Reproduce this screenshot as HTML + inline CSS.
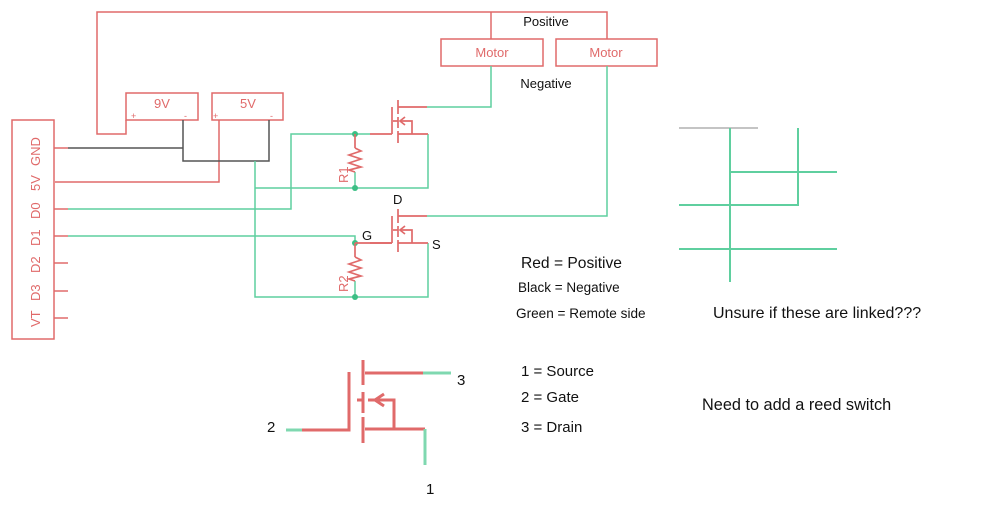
<!DOCTYPE html>
<html><head><meta charset="utf-8"><style>
html,body{margin:0;padding:0;background:#fff}
svg{display:block}
text{font-family:"Liberation Sans",sans-serif}
</style></head><body>
<svg width="1000" height="527" viewBox="0 0 1000 527" xmlns="http://www.w3.org/2000/svg">
<g fill="none" stroke="#e06a6a" stroke-width="1.5">
 <polyline points="126,120 126,134 97,134 97,12 607,12 607,39"/>
 <line x1="491" y1="12" x2="491" y2="39"/>
 <rect x="441" y="39" width="102" height="27"/>
 <rect x="556" y="39" width="101" height="27"/>
 <rect x="126" y="93" width="72" height="27"/>
 <rect x="212" y="93" width="71" height="27"/>
 <polyline points="219,120 219,182 55,182"/>
 <rect x="12" y="120" width="42" height="219"/>
 <line x1="54" y1="148" x2="68" y2="148"/>
 <line x1="54" y1="209" x2="68" y2="209"/>
 <line x1="54" y1="236" x2="68" y2="236"/>
 <line x1="54" y1="263" x2="68" y2="263"/>
 <line x1="54" y1="291" x2="68" y2="291"/>
 <line x1="54" y1="318" x2="68" y2="318"/>
</g>
<g fill="none" stroke="#555" stroke-width="1.5">
 <polyline points="68,148 183,148"/>
 <polyline points="183,120 183,161 269,161 269,120"/>
</g>
<g fill="none" stroke="#5fcf9f" stroke-width="1.5">
 <polyline points="255,161 255,297 428,297 428,243"/>
 <polyline points="255,188 428,188 428,134"/>
 <polyline points="68,209 291,209 291,134 370,134"/>
 <polyline points="68,236 355,236 355,243"/>
 <polyline points="427,107 491,107 491,66"/>
 <polyline points="427,216 607,216 607,66"/>
 <line x1="355" y1="172" x2="355" y2="188"/>
 <line x1="355" y1="281" x2="355" y2="297"/>
</g>
<g fill="#3cbf85"><circle cx="355" cy="134" r="3"/><circle cx="355" cy="188" r="3"/><circle cx="355" cy="243" r="3"/><circle cx="355" cy="297" r="3"/></g>
<g fill="none" stroke="#e06a6a" stroke-width="1.7">
 <g id="m1">
  <line x1="370" y1="134" x2="392" y2="134"/>
  <line x1="392" y1="107" x2="392" y2="134"/>
  <line x1="398" y1="100" x2="398" y2="114"/>
  <line x1="398" y1="117" x2="398" y2="128"/>
  <line x1="398" y1="131" x2="398" y2="143"/>
  <line x1="398" y1="107" x2="427" y2="107"/>
  <line x1="398" y1="134" x2="428" y2="134"/>
  <polyline points="400,121 412,121 412,134"/>
  <polyline points="405,117 400,121 405,125"/>
  <line x1="393" y1="121" x2="398" y2="121"/>
 </g>
 <use href="#m1" transform="translate(0,109)"/>
 <line x1="355" y1="134" x2="355" y2="148"/>
 <polyline points="355,148 361,151 349,155 361,159 349,163 361,167 349,170 355,172"/>
 <line x1="355" y1="243" x2="392" y2="243"/>
 <line x1="355" y1="243" x2="355" y2="257"/>
 <polyline points="355,257 361,260 349,264 361,268 349,272 361,276 349,279 355,281"/>
</g>
<g fill="none" stroke-width="3">
 <line x1="286" y1="430" x2="302" y2="430" stroke="#7fd8b0"/>
 <polyline points="302,430 349,430 349,372" stroke="#e06a6a"/>
 <line x1="363" y1="360" x2="363" y2="385" stroke="#e06a6a"/>
 <line x1="363" y1="392" x2="363" y2="413" stroke="#e06a6a"/>
 <line x1="363" y1="417" x2="363" y2="443" stroke="#e06a6a"/>
 <line x1="365" y1="373" x2="423" y2="373" stroke="#e06a6a"/>
 <line x1="423" y1="373" x2="451" y2="373" stroke="#7fd8b0"/>
 <line x1="365" y1="429" x2="425" y2="429" stroke="#e06a6a"/>
 <line x1="425" y1="429" x2="425" y2="465" stroke="#7fd8b0"/>
 <polyline points="368,400 394,400 394,429" stroke="#e06a6a"/>
 <polyline points="384,394 375,400 384,406" stroke="#e06a6a"/>
 <line x1="357" y1="400" x2="363" y2="400" stroke="#e06a6a"/>
</g>
<line x1="679" y1="128" x2="758" y2="128" stroke="#888" stroke-width="1"/>
<g stroke="#5fcf9f" stroke-width="2" fill="none">
 <line x1="730" y1="128" x2="730" y2="282"/>
 <polyline points="798,128 798,205 679,205"/>
 <line x1="730" y1="172" x2="837" y2="172"/>
 <line x1="679" y1="249" x2="837" y2="249"/>
</g>
<g fill="#e06a6a" font-size="13">
 <text x="492" y="57" text-anchor="middle">Motor</text>
 <text x="606" y="57" text-anchor="middle">Motor</text>
 <text x="162" y="108" text-anchor="middle">9V</text>
 <text x="248" y="108" text-anchor="middle">5V</text>
 <text x="131" y="119" font-size="9">+</text>
 <text x="184" y="119" font-size="9">-</text>
 <text x="213" y="119" font-size="9">+</text>
 <text x="270" y="119" font-size="9">-</text>
 <text transform="translate(40,166) rotate(-90)">GND</text>
 <text transform="translate(40,191) rotate(-90)">5V</text>
 <text transform="translate(40,219) rotate(-90)">D0</text>
 <text transform="translate(40,246) rotate(-90)">D1</text>
 <text transform="translate(40,273) rotate(-90)">D2</text>
 <text transform="translate(40,301) rotate(-90)">D3</text>
 <text transform="translate(40,327) rotate(-90)">VT</text>
 <text transform="translate(348,183) rotate(-90)">R1</text>
 <text transform="translate(348,292) rotate(-90)">R2</text>
</g>
<g fill="#111" font-size="13">
 <text x="546" y="26" text-anchor="middle">Positive</text>
 <text x="546" y="88" text-anchor="middle">Negative</text>
 <text x="393" y="204">D</text>
 <text x="362" y="240">G</text>
 <text x="432" y="249">S</text>
 <text x="521" y="268" font-size="15.6">Red = Positive</text>
 <text x="518" y="292" font-size="13.5">Black = Negative</text>
 <text x="516" y="318" font-size="13.6">Green = Remote side</text>
 <text x="713" y="318" font-size="16">Unsure if these are linked???</text>
 <text x="521" y="376" font-size="15">1 = Source</text>
 <text x="521" y="402" font-size="15">2 = Gate</text>
 <text x="521" y="432" font-size="15">3 = Drain</text>
 <text x="702" y="410" font-size="16.3">Need to add a reed switch</text>
 <text x="267" y="432" font-size="15">2</text>
 <text x="457" y="385" font-size="15">3</text>
 <text x="426" y="494" font-size="15">1</text>
</g>
</svg>
</body></html>
